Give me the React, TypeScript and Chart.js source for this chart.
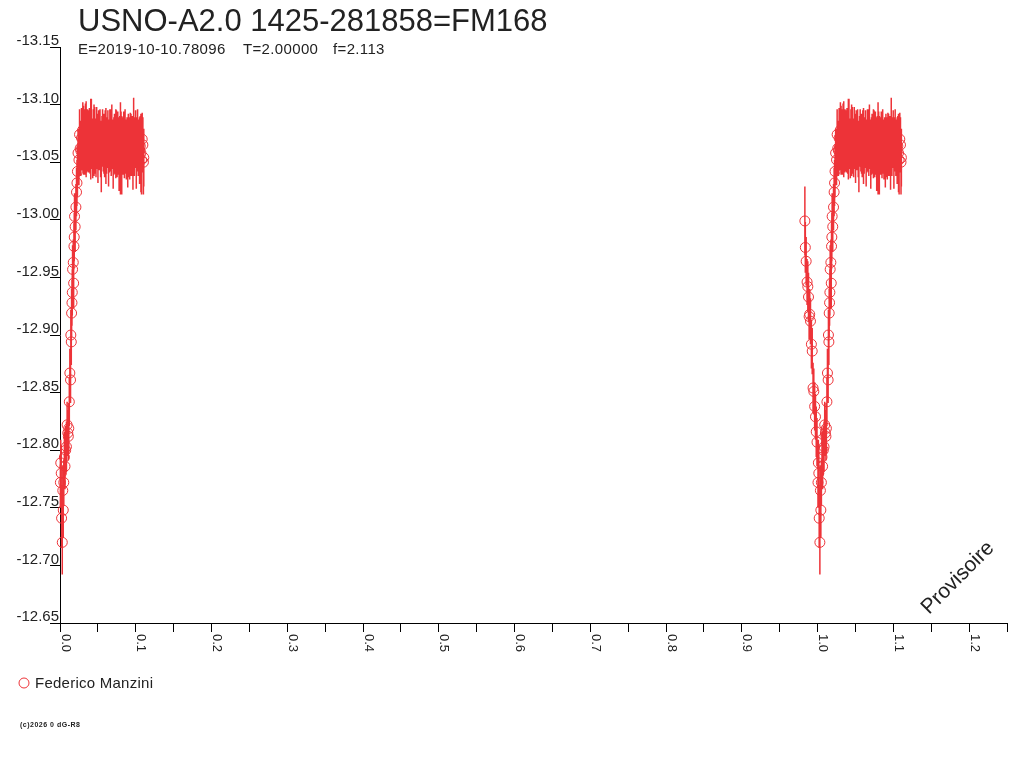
import React, { useEffect, useRef } from "react";
import { Chart, registerables } from "chart.js";

Chart.register(...registerables);

// ---------- text ----------
const TITLE = "USNO-A2.0 1425-281858=FM168";
const SUB_EPOCH = "E=2019-10-10.78096";
const SUB_PERIOD = "T=2.00000";
const SUB_F = "f=2.113";
const OBSERVER = "Federico Manzini";
const COPYRIGHT = "(c)2026 0 dG-R8";
const WATERMARK = "Provisoire";

// ---------- axes ----------
const X_MIN = 0;
const X_MAX = 1.25;
const X_STEP = 0.05;
const X_LABEL_STEP = 0.1;
const Y_MIN = -13.15;
const Y_MAX = -12.65;
const Y_STEP = 0.05;

// ---------- observations (phase, magnitude, error) ----------
const ingressPhase = [
  -0.0168, -0.0162, -0.0151, -0.0139, -0.0129, -0.012, -0.0112, -0.0104, -0.0094,
  -0.0082, -0.0071, -0.006, -0.005, -0.0039, -0.0028, -0.0018, -0.0008,
];
const ingressMag = [
  -12.999, -12.976, -12.964, -12.946, -12.942, -12.933, -12.916, -12.918, -12.912,
  -12.892, -12.886, -12.854, -12.851, -12.838, -12.829, -12.816, -12.807,
];
const ingressErr = [
  0.03, 0.022, 0.021, 0.02, 0.022, 0.021, 0.02, 0.022, 0.02,
  0.021, 0.02, 0.022, 0.02, 0.021, 0.02, 0.022, 0.021,
];

const egressPhase = [
  0.0005, 0.001, 0.0016, 0.0021, 0.003, 0.0037, 0.0043, 0.005, 0.0058, 0.0066,
  0.0075, 0.0085, 0.0094, 0.0103, 0.011, 0.0116, 0.0123, 0.013, 0.0139, 0.0143,
  0.0149, 0.0153, 0.0158, 0.0162, 0.0166, 0.0175, 0.018, 0.0184, 0.0188, 0.0192,
  0.02, 0.021, 0.0218, 0.0224, 0.023, 0.0238, 0.025, 0.0258, 0.0266,
];
const egressMag = [
  -12.772, -12.789, -12.78, -12.741, -12.72, -12.765, -12.748, -12.772, -12.794, -12.786,
  -12.8, -12.803, -12.822, -12.815, -12.812, -12.819, -12.842, -12.867, -12.861, -12.9,
  -12.894, -12.919, -12.928, -12.937, -12.957, -12.963, -12.945, -12.977, -12.985, -13.003,
  -12.994, -13.011, -13.024, -13.032, -13.042, -13.058, -13.052, -13.074, -13.062,
];
const egressErr = [
  0.022, 0.02, 0.024, 0.026, 0.028, 0.022, 0.024, 0.02, 0.022, 0.02,
  0.021, 0.022, 0.02, 0.02, 0.021, 0.022, 0.021, 0.021, 0.02, 0.022,
  0.02, 0.021, 0.02, 0.02, 0.021, 0.02, 0.022, 0.02, 0.021, 0.02,
  0.022, 0.02, 0.021, 0.02, 0.022, 0.021, 0.022, 0.022, 0.024,
];

const plateauPhase = [
  0.0275, 0.0284, 0.0292, 0.0301, 0.031, 0.0318, 0.0327, 0.0336, 0.0345, 0.0353,
  0.0362, 0.0371, 0.0379, 0.0388, 0.0397, 0.0406, 0.0414, 0.0423, 0.0432, 0.044,
  0.0449, 0.0458, 0.0467, 0.0475, 0.0484, 0.0493, 0.0501, 0.051, 0.0519, 0.0528,
  0.0536, 0.0545, 0.0554, 0.0562, 0.0571, 0.058, 0.0589, 0.0597, 0.0606, 0.0615,
  0.0623, 0.0632, 0.0641, 0.065, 0.0658, 0.0667, 0.0676, 0.0684, 0.0693, 0.0702,
  0.0711, 0.0719, 0.0728, 0.0737, 0.0745, 0.0754, 0.0763, 0.0772, 0.078, 0.0789,
  0.0798, 0.0806, 0.0815, 0.0824, 0.0833, 0.0841, 0.085, 0.0859, 0.0867, 0.0876,
  0.0885, 0.0894, 0.0902, 0.0911, 0.092, 0.0928, 0.0937, 0.0946, 0.0955, 0.0963,
  0.0972, 0.0981, 0.0989, 0.0998, 0.1007, 0.1016, 0.1024, 0.1033, 0.1042, 0.105,
  0.1059, 0.1068, 0.1076, 0.1085, 0.1094, 0.1101, 0.1106,
];
const plateauMag = [
  -13.06, -13.071, -13.064, -13.078, -13.069, -13.074, -13.062, -13.081, -13.07, -13.066,
  -13.072, -13.063, -13.068, -13.075, -13.06, -13.07, -13.079, -13.066, -13.061, -13.073,
  -13.069, -13.076, -13.064, -13.058, -13.071, -13.067, -13.062, -13.074, -13.065, -13.07,
  -13.06, -13.055, -13.068, -13.072, -13.063, -13.066, -13.059, -13.07, -13.064, -13.061,
  -13.067, -13.071, -13.058, -13.062, -13.073, -13.069, -13.06, -13.075, -13.065, -13.057,
  -13.064, -13.07, -13.061, -13.066, -13.072, -13.059, -13.068, -13.063, -13.057, -13.069,
  -13.062, -13.071, -13.056, -13.067, -13.064, -13.073, -13.06, -13.068, -13.065, -13.061,
  -13.066, -13.058, -13.07, -13.063, -13.059, -13.072, -13.065, -13.061, -13.068, -13.057,
  -13.074, -13.062, -13.067, -13.07, -13.058, -13.064, -13.069, -13.061, -13.066, -13.06,
  -13.064, -13.058, -13.052, -13.07, -13.065, -13.05, -13.054,
];
const plateauErr = [
  0.022, 0.026, 0.021, 0.024, 0.03, 0.022, 0.023, 0.02, 0.033, 0.025,
  0.024, 0.021, 0.027, 0.022, 0.02, 0.035, 0.026, 0.022, 0.025, 0.023,
  0.031, 0.022, 0.024, 0.021, 0.027, 0.023, 0.03, 0.021, 0.022, 0.026,
  0.023, 0.031, 0.022, 0.024, 0.021, 0.026, 0.022, 0.025, 0.033, 0.021,
  0.022, 0.024, 0.029, 0.021, 0.023, 0.027, 0.022, 0.025, 0.021, 0.03,
  0.025, 0.022, 0.021, 0.03, 0.023, 0.022, 0.026, 0.024, 0.032, 0.021,
  0.04, 0.023, 0.034, 0.022, 0.025, 0.021, 0.024, 0.028, 0.022, 0.026,
  0.023, 0.03, 0.022, 0.026, 0.024, 0.021, 0.027, 0.023, 0.022, 0.031,
  0.032, 0.024, 0.022, 0.025, 0.031, 0.022, 0.027, 0.023, 0.021, 0.029,
  0.026, 0.034, 0.03, 0.023, 0.024, 0.028, 0.025,
];

const RED = "#ED3338";
const TEXT = "#222222";
const FONT = '"Liberation Sans", Arial, sans-serif';

type Pt = { x: number; y: number | null };

function buildData() {
  const phase = [...ingressPhase, ...egressPhase, ...plateauPhase];
  const mag = [...ingressMag, ...egressMag, ...plateauMag];
  const err = [...ingressErr, ...egressErr, ...plateauErr];
  const points: Pt[] = [];
  const bars: Pt[] = [];
  const addCopy = (shift: number) => {
    for (let i = 0; i < phase.length; i++) {
      const x = phase[i] + shift;
      if (x < X_MIN || x > X_MAX) continue;
      points.push({ x, y: mag[i] });
      bars.push({ x, y: mag[i] - err[i] }, { x, y: mag[i] + err[i] }, { x, y: null });
    }
  };
  addCopy(0);
  addCopy(1);
  return { points, bars };
}

function setSpacing(ctx: any, v: string) {
  if ("letterSpacing" in ctx) ctx.letterSpacing = v;
}

const decorPlugin = {
  id: "decor",
  afterDraw(chart: any) {
    const ctx: CanvasRenderingContext2D = chart.ctx;
    const xs = chart.scales.x;
    ctx.save();
    ctx.fillStyle = TEXT;
    ctx.textAlign = "left";
    ctx.textBaseline = "alphabetic";

    // title
    ctx.font = `31px ${FONT}`;
    ctx.fillText(TITLE, 78, 31);

    // subtitle
    ctx.font = `15px ${FONT}`;
    setSpacing(ctx, "0.35px");
    ctx.fillText(SUB_EPOCH, 78, 54);
    ctx.fillText(SUB_PERIOD, 243, 54);
    ctx.fillText(SUB_F, 333, 54);
    setSpacing(ctx, "0px");

    // x tick labels, rotated clockwise
    ctx.font = `13px ${FONT}`;
    for (const t of xs.ticks) {
      const v = t.value as number;
      const k = v / X_LABEL_STEP;
      if (Math.abs(k - Math.round(k)) > 1e-6) continue;
      const px = xs.getPixelForValue(v);
      ctx.save();
      ctx.translate(px + 1.5, 634);
      ctx.rotate(Math.PI / 2);
      ctx.fillText(v.toFixed(1), 0, 0);
      ctx.restore();
    }

    // legend
    ctx.strokeStyle = RED;
    ctx.lineWidth = 1;
    ctx.beginPath();
    ctx.arc(24, 683, 5, 0, Math.PI * 2);
    ctx.stroke();
    ctx.font = `15px ${FONT}`;
    ctx.textBaseline = "middle";
    setSpacing(ctx, "0.25px");
    ctx.fillText(OBSERVER, 35, 684);

    // copyright
    ctx.font = `bold 7px ${FONT}`;
    setSpacing(ctx, "0.5px");
    ctx.fillText(COPYRIGHT, 20, 725);
    setSpacing(ctx, "0px");

    // watermark
    ctx.save();
    ctx.translate(958, 578);
    ctx.rotate(-Math.PI / 4);
    ctx.font = `21px ${FONT}`;
    ctx.textAlign = "center";
    ctx.textBaseline = "middle";
    ctx.fillText(WATERMARK, 0, 0);
    ctx.restore();

    ctx.restore();
  },
};

export default function App() {
  const ref = useRef<HTMLCanvasElement>(null);
  useEffect(() => {
    const canvas = ref.current;
    if (!canvas) return;
    const { points, bars } = buildData();
    const chart = new Chart(canvas, {
      type: "line",
      data: {
        datasets: [
          {
            label: "errors",
            data: bars as any,
            borderColor: RED,
            borderWidth: 1.5,
            pointRadius: 0,
            pointHoverRadius: 0,
            spanGaps: false,
            fill: false,
            clip: false as any,
          },
          {
            label: OBSERVER,
            data: points as any,
            showLine: false,
            borderColor: RED,
            backgroundColor: "rgba(0,0,0,0)",
            pointStyle: "circle",
            pointRadius: 5,
            pointBorderWidth: 1,
            pointBorderColor: RED,
            pointBackgroundColor: "rgba(0,0,0,0)",
            clip: false as any,
          },
        ],
      },
      options: {
        animation: false,
        responsive: false,
        maintainAspectRatio: false,
        events: [],
        layout: { padding: { left: 0, top: 47, right: 17, bottom: 0 } },
        plugins: {
          legend: { display: false },
          title: { display: false },
          tooltip: { enabled: false },
        },
        scales: {
          x: {
            type: "linear",
            min: X_MIN,
            max: X_MAX,
            afterFit: (s: any) => {
              s.height = 145;
            },
            ticks: {
              stepSize: X_STEP,
              autoSkip: false,
              maxRotation: 0,
              callback: () => "",
            },
            grid: {
              drawOnChartArea: false,
              drawTicks: true,
              tickLength: 9,
              color: "#000",
              lineWidth: 1,
            },
            border: { display: true, color: "#000", width: 1 },
          },
          y: {
            type: "linear",
            reverse: true,
            min: Y_MIN,
            max: Y_MAX,
            afterFit: (s: any) => {
              s.width = 60;
            },
            ticks: {
              stepSize: Y_STEP,
              autoSkip: false,
              padding: -9,
              labelOffset: -6,
              color: TEXT,
              font: { family: FONT, size: 15 },
              callback: (v: any) => Number(v).toFixed(2),
            },
            grid: {
              drawOnChartArea: false,
              drawTicks: true,
              tickLength: 10,
              color: "#000",
              lineWidth: 1,
            },
            border: { display: true, color: "#000", width: 1 },
          },
        },
      },
      plugins: [decorPlugin],
    } as any);
    return () => chart.destroy();
  }, []);

  return (
    <div style={{ position: "fixed", left: 0, top: 0, width: 1024, height: 768, background: "#fff" }}>
      <canvas ref={ref} width={1024} height={768} style={{ display: "block" }} />
    </div>
  );
}
